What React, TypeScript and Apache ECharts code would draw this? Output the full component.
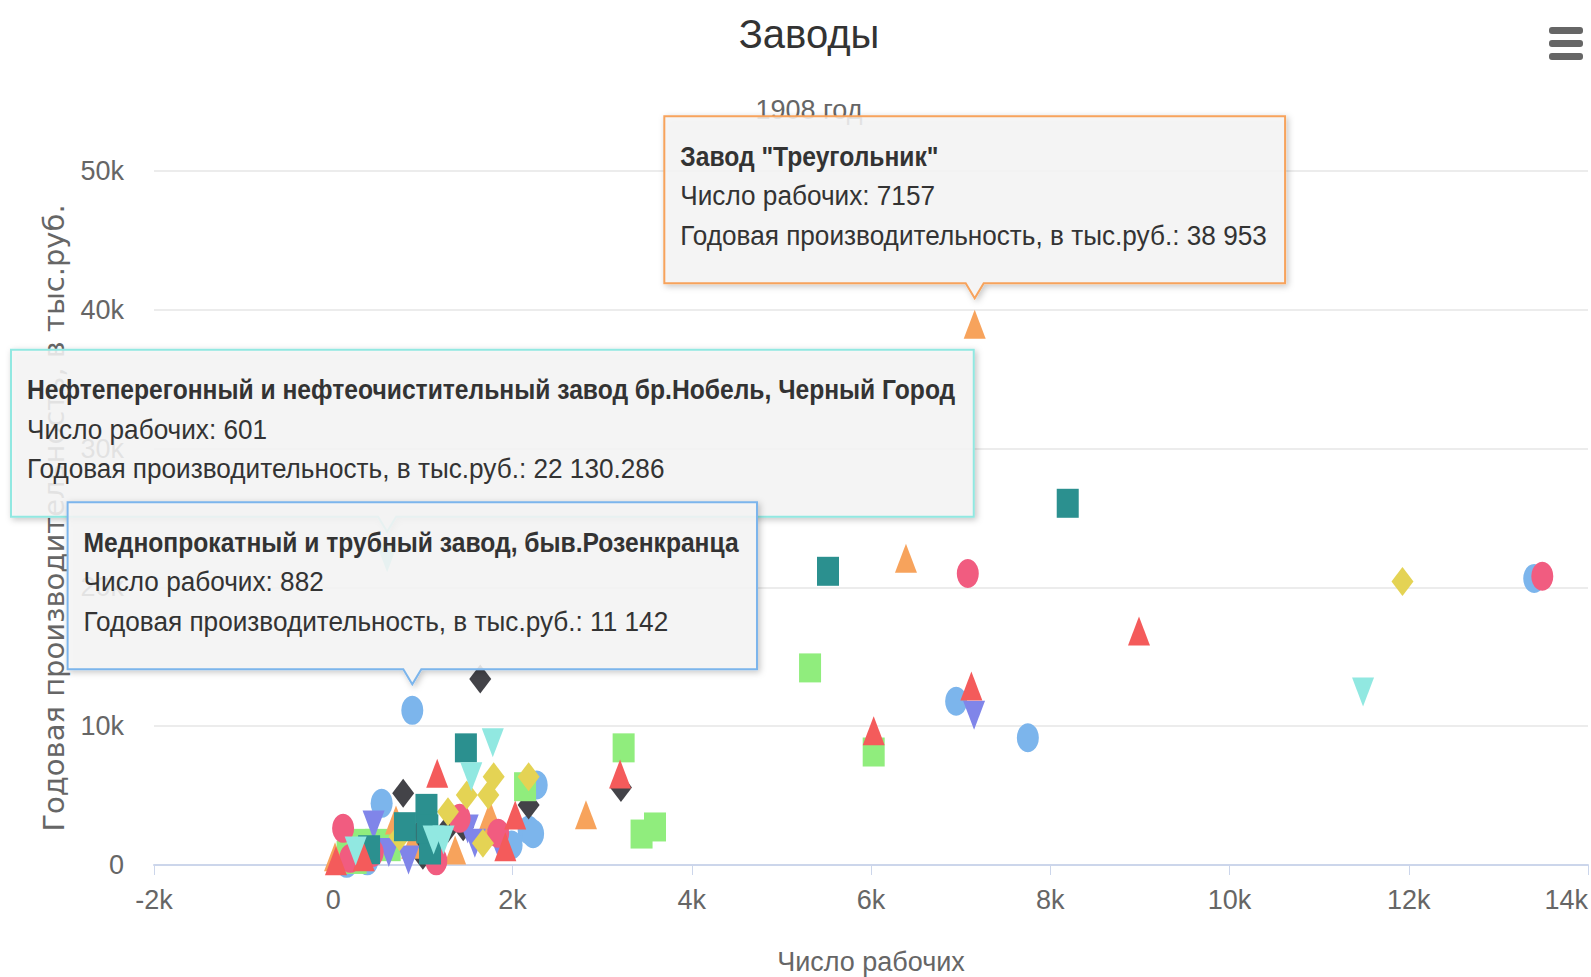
import React, { useEffect, useRef } from 'react';
import * as echarts from 'echarts';

// ---- texts ----
const titleText = 'Заводы';
const subtitleText = '1908 год';
const xAxisTitle = 'Число рабочих';
const yAxisTitle = 'Годовая производительность, в тыс.руб.';
const workersLabel = 'Число рабочих';
const outputLabel = 'Годовая производительность, в тыс.руб.';

// ---- axes ----
const xMin = -2000;
const xMax = 14000;
const xInterval = 2000;
const yMin = 0;
const yMax = 50000;
const yInterval = 10000;

// ---- series (workers, annual output in thousand roubles) ----
const seriesNames = ['Группа 1', 'Группа 2', 'Группа 3', 'Группа 4', 'Группа 5', 'Группа 6', 'Группа 7', 'Группа 8', 'Группа 9', 'Группа 10'];

const group1 = [[882, 11142], [6950, 11800], [7750, 9170], [13400, 20650], [540, 4440], [2270, 5760], [2180, 2520], [1990, 1440], [2230, 2250], [380, 300], [150, 120]];
const group2 = [[1640, 13400], [3210, 5590], [780, 5170], [930, 2040], [2180, 4320], [1280, 2640], [1450, 2760], [520, 1300], [1000, 700]];
const group3 = [[5320, 14200], [6030, 8140], [3240, 8440], [3440, 2230], [3590, 2740], [2140, 5640], [300, 1560], [480, 1560], [630, 1320], [160, 700], [250, 400]];
const group4 = [[7157, 38953], [6390, 22100], [2820, 3620], [700, 3240], [1750, 3600], [1360, 1080], [1730, 2900], [20, 600], [880, 1500]];
const group5 = [[7150, 10780], [450, 2880], [840, 360], [1580, 1560], [1840, 1560], [620, 900], [1500, 2600]];
const group6 = [[7080, 21000], [13490, 20800], [110, 2640], [190, 480], [1410, 3360], [1840, 2280], [1150, 300], [440, 900]];
const group7 = [[11930, 20430], [1790, 6360], [1490, 5040], [1730, 5040], [2180, 6360], [1280, 3840], [740, 2040], [1670, 1560]];
const group8 = [[8195, 26060], [5520, 21160], [1480, 8440], [1040, 4080], [800, 2760], [1080, 1080], [400, 1100], [1050, 2600]];
const group9 = [[8990, 16850], [7120, 12900], [6030, 9680], [3200, 6550], [1160, 6610], [2030, 3600], [1920, 1320], [340, 600], [30, 300]];
const group10 = [[601, 22130.286], [11490, 12460], [1780, 8810], [1540, 6360], [1120, 1800], [1230, 1800], [250, 1000]];

const allGroups = [group1, group2, group3, group4, group5, group6, group7, group8, group9, group10];

// ---- highlighted points (shown with callouts) ----
const tipNames = [
  'Завод "Треугольник"',
  'Нефтеперегонный и нефтеочистительный завод бр.Нобель, Черный Город',
  'Меднопрокатный и трубный завод, быв.Розенкранца',
];
const tipSeries = [3, 9, 0];
const tipPoints = [[7157, 38953], [601, 22130.286], [882, 11142]];

// ---- styles ----
const seriesColors = ['#7cb5ec', '#434348', '#90ed7d', '#f7a35c', '#8085e9', '#f15c80', '#e4d354', '#2b908f', '#f45b5b', '#91e8e1'];
const seriesSymbols = ['circle', 'diamond', 'rect', 'triangle', 'triangle', 'circle', 'diamond', 'rect', 'triangle', 'triangle'];
const seriesRotate = [0, 0, 0, 0, 180, 0, 0, 0, 0, 180];

const SANS = '"Liberation Sans", Arial, sans-serif';
const W = 1591;
const H = 977;

const fmtNum = (v: number) => {
  const [i, d] = String(v).split('.');
  const g = i.replace(/\B(?=(\d{3})+(?!\d))/g, ' ');
  return d ? g + '.' + d : g;
};
const fmtAxis = (v: number) => (v === 0 ? '0' : v / 1000 + 'k');

export default function App() {
  const ref = useRef<HTMLDivElement>(null);
  useEffect(() => {
    document.body.style.margin = '0';
    const chart = echarts.init(ref.current!, null, { renderer: 'svg' });
    const ctx = document.createElement('canvas').getContext('2d')!;
    const measure = (text: string, font: string) => {
      ctx.font = font;
      return ctx.measureText(text).width;
    };
    const titleCx = 809;
    const titleW = measure(titleText, `40px ${SANS}`);
    const subW = measure(subtitleText, `27px ${SANS}`);

    chart.setOption({
      animation: false,
      backgroundColor: '#ffffff',
      title: [
        {
          text: titleText,
          left: titleCx - titleW / 2,
          top: 14,
          padding: 0,
          textStyle: { fontFamily: SANS, fontSize: 40, fontWeight: 'normal', color: '#333333' },
        },
        {
          text: subtitleText,
          left: titleCx - subW / 2,
          top: 96,
          padding: 0,
          textStyle: { fontFamily: SANS, fontSize: 27, fontWeight: 'normal', color: '#666666' },
        },
      ],
      grid: { left: 154, right: 3, top: 171, bottom: 112, containLabel: false, outerBoundsMode: 'none' },
      xAxis: {
        type: 'value',
        min: xMin,
        max: xMax,
        interval: xInterval,
        name: xAxisTitle,
        nameLocation: 'middle',
        nameGap: 83,
        nameTextStyle: { fontFamily: SANS, fontSize: 27, color: '#666666' },
        axisLine: { show: true, onZero: false, lineStyle: { color: '#ccd6eb', width: 2 } },
        axisTick: { show: true, length: 10, lineStyle: { color: '#ccd6eb' } },
        axisLabel: { formatter: fmtAxis, margin: 21, fontFamily: SANS, fontSize: 27, color: '#666666', alignMaxLabel: 'right' },
        splitLine: { show: false },
      },
      yAxis: {
        type: 'value',
        min: yMin,
        max: yMax,
        interval: yInterval,
        name: yAxisTitle,
        nameLocation: 'middle',
        nameGap: 86,
        nameTextStyle: { fontFamily: '"DejaVu Sans", sans-serif', fontSize: 29, color: '#666666' },
        axisLine: { show: false },
        axisTick: { show: false },
        axisLabel: { formatter: fmtAxis, margin: 30, fontFamily: SANS, fontSize: 27, color: '#666666' },
        splitLine: { show: true, lineStyle: { color: '#e6e6e6', width: 1.5 } },
      },
      series: allGroups.map((data, i) => ({
        type: 'scatter',
        name: seriesNames[i],
        data,
        symbol: seriesSymbols[i],
        symbolRotate: seriesRotate[i],
        symbolSize: [22, 29],
        itemStyle: { color: seriesColors[i], opacity: 1 },
        z: 2 + i * 0.01,
      })),
    });

    // callouts
    const boxH = 167;
    const normalScale = 0.935;
    const boldScale = 0.88;
    const graphics: any[] = [];
    // menu icon
    [27, 40, 53].forEach((y, k) => {
      graphics.push({
        type: 'rect',
        id: 'menu' + k,
        shape: { x: 1549, y, width: 34, height: 7, r: 3 },
        style: { fill: '#666666' },
        z: 50,
      });
    });
    tipPoints.forEach((pt, k) => {
      const [px, py] = chart.convertToPixel({ xAxisIndex: 0, yAxisIndex: 0 }, pt) as number[];
      const lines = [
        tipNames[k],
        `${workersLabel}: ${pt[0]}`,
        `${outputLabel}: ${fmtNum(pt[1])}`,
      ];
      const widths = [
        measure(lines[0], `bold 28px ${SANS}`) * boldScale,
        measure(lines[1], `28px ${SANS}`) * normalScale,
        measure(lines[2], `28px ${SANS}`) * normalScale,
      ];
      const boxW = Math.max(...widths) + 34;
      let left = px - boxW / 2;
      left = Math.max(11, Math.min(W - boxW - 11, left));
      const bottom = py - 41;
      const top = bottom - boxH;
      const right = left + boxW;
      const color = seriesColors[tipSeries[k]];
      const nx = Math.max(left + 12, Math.min(right - 12, px));
      graphics.push({
        type: 'group',
        id: 'tip' + k,
        z: 100 + k,
        children: [
          {
            type: 'polygon',
            z: 100 + k,
            shape: {
              points: [
                [left, top],
                [right, top],
                [right, bottom],
                [nx + 9, bottom],
                [nx, bottom + 15],
                [nx - 9, bottom],
                [left, bottom],
              ],
            },
            style: {
              fill: 'rgba(247,247,247,0.85)',
              stroke: color,
              lineWidth: 2,
              shadowBlur: 6,
              shadowColor: 'rgba(0,0,0,0.25)',
              shadowOffsetX: 2,
              shadowOffsetY: 2,
            },
          },
          ...lines.map((t, j) => ({
            type: 'text',
            z: 100 + k,
            x: left + 16,
            y: top + 40 + j * 39.3,
            scaleX: j === 0 ? boldScale : normalScale,
            style: {
              text: t,
              fill: '#333333',
              fontFamily: SANS,
              fontSize: 28,
              fontWeight: j === 0 ? 'bold' : 'normal',
              verticalAlign: 'middle',
              textVerticalAlign: 'middle',
            },
          })),
        ],
      });
    });
    chart.setOption({ graphic: graphics });
    return () => chart.dispose();
  }, []);
  return <div ref={ref} style={{ width: W, height: H }} />;
}
